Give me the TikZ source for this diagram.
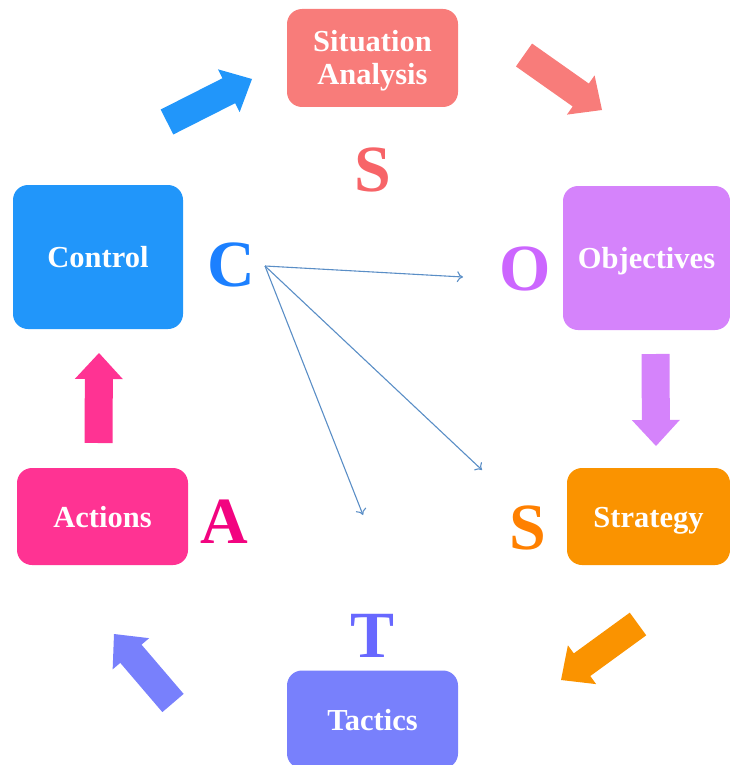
\documentclass[tikz,border=0pt]{standalone}
\usepackage{fontspec}
\setmainfont{Liberation Serif}
\usetikzlibrary{calc,arrows.meta}
\definecolor{saC}{HTML}{F87C7A}
\definecolor{saL}{HTML}{F76468}
\definecolor{ctC}{HTML}{2196FA}
\definecolor{ctL}{HTML}{1C80FF}
\definecolor{obC}{HTML}{D583FB}
\definecolor{obL}{HTML}{CC66FF}
\definecolor{stC}{HTML}{FA9300}
\definecolor{stL}{HTML}{FF8000}
\definecolor{taC}{HTML}{7880FC}
\definecolor{taL}{HTML}{6868FF}
\definecolor{acC}{HTML}{FF3393}
\definecolor{acL}{HTML}{F20480}
\definecolor{thinC}{HTML}{5A8EC6}
\tikzset{
  box/.style={rounded corners=15pt, inner sep=0pt, text=white, align=center,
    text height=21pt, text depth=0pt,
    font=\fontsize{30.5}{33}\selectfont\bfseries},
  letter/.style={font=\fontsize{66}{66}\selectfont\bfseries, inner sep=0pt, anchor=base},
  thinarrow/.style={draw=thinC, line width=1.1pt, -{To[length=6pt,width=11pt]}}
}
\newcommand\blockarr[3]{%
  \coordinate (ba-b) at ($(#3)!26pt!(#2)$);
  \fill[#1] ($(#2)!14pt!90:(#3)$) -- ($(ba-b)!14pt!90:(#3)$) -- ($(ba-b)!24pt!90:(#3)$)
    -- (#3) -- ($(ba-b)!24pt!-90:(#3)$) -- ($(ba-b)!14pt!-90:(#3)$)
    -- ($(#2)!14pt!-90:(#3)$) -- cycle;}
\begin{document}
\begin{tikzpicture}[x=1pt,y=-1pt]
\useasboundingbox (0,0) rectangle (730,765);
% boxes
\node[box, fill=saC, minimum width=171pt, minimum height=98pt, text height=54pt] (sa) at (372.5,58) {Situation\\Analysis};
\node[box, fill=obC, minimum width=167pt, minimum height=144pt] (ob) at (646.5,258) {Objectives};
\node[box, fill=stC, minimum width=163pt, minimum height=97pt] (st) at (648.5,516.5) {Strategy};
\node[box, fill=taC, minimum width=171pt, minimum height=98pt] (ta) at (372.5,719.5) {Tactics};
\node[box, fill=acC, minimum width=171pt, minimum height=97pt] (ac) at (102.5,516.5) {Actions};
\node[box, fill=ctC, minimum width=170pt, minimum height=144pt] (ct) at (98,257) {Control};
% letters
\node[letter, text=saL] (lS1) at (373,191) {S};
\node[letter, text=obL] (lO) at (525,290) {O};
\node[letter, text=stL] (lS2) at (528,549) {S};
\node[letter, text=taL] (lT) at (373,657) {T};
\node[letter, text=acL] (lA) at (224,543) {A};
\node[letter, text=ctL] (lC) at (231,286) {C};
% block arrows
\coordinate (a1t) at (167,122);   \coordinate (a1h) at (252,79);
\coordinate (a2t) at (524,55);    \coordinate (a2h) at (602,110);
\coordinate (a3t) at (655.5,354); \coordinate (a3h) at (656,446);
\coordinate (a4t) at (638,624);   \coordinate (a4h) at (561,680);
\coordinate (a5t) at (173,703);   \coordinate (a5h) at (114,634);
\coordinate (a6t) at (98.5,443);  \coordinate (a6h) at (99,353);
\blockarr{ctC}{a1t}{a1h}
\blockarr{saC}{a2t}{a2h}
\blockarr{obC}{a3t}{a3h}
\blockarr{stC}{a4t}{a4h}
\blockarr{taC}{a5t}{a5h}
\blockarr{acC}{a6t}{a6h}
% thin arrows from C
\coordinate (cs) at (265,266);
\coordinate (e1) at (463,277);
\coordinate (e2) at (482,470);
\coordinate (e3) at (363,515);
\draw[thinarrow] (cs) -- (e1);
\draw[thinarrow] (cs) -- (e2);
\draw[thinarrow] (cs) -- (e3);
\end{tikzpicture}
\end{document}
